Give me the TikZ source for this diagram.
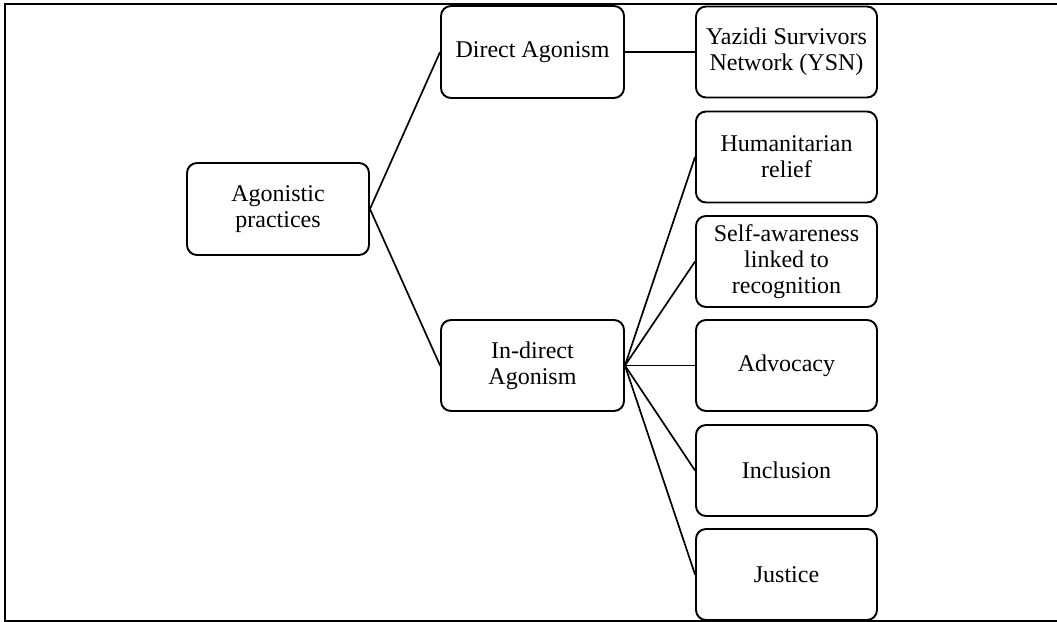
\documentclass[tikz,border=0pt]{standalone}
\usepackage{fontspec}
\setmainfont{Liberation Serif}
\usepackage{tikz}

\begin{document}
\begin{tikzpicture}[x=0.5pt, y=-0.5pt,
    box/.style={shape=rectangle, draw=black, line width=0.95pt, rounded corners=5pt,
        minimum width=90.5pt, minimum height=45.5pt, inner sep=2pt, align=center,
        font=\fontsize{12}{13}\selectfont},
    link/.style={draw=black, line width=0.85pt}]
    \useasboundingbox (0, 0) rectangle (1057, 622);
    % outer frame, right side lies outside the picture
    \draw [line width=0.9pt] (1057, 4) -- (5, 4) -- (5, 621) -- (1057, 621);

    \node[box, minimum width=91pt, minimum height=46pt] (agon) at (278, 209) {Agonistic\\practices};
    \node[box, minimum width=91.5pt, minimum height=46pt] (direct) at (532.5, 52) {Direct Agonism};
    \node[box, minimum width=91.5pt] (indirect) at (532.5, 365.5) {In-direct\\Agonism};

    \node[box] (ysn) at (786.5, 52) {Yazidi Survivors\\Network (YSN)};
    \node[box] (relief) at (786.5, 157) {Humanitarian\\relief};
    \node[box] (aware) at (786.5, 261.5) {Self-awareness\\linked to\\recognition};
    \node[box] (advocacy) at (786.5, 365.5) {Advocacy};
    \node[box] (inclusion) at (786.5, 470.5) {Inclusion};
    \node[box] (justice) at (786.5, 574.5) {Justice};

    \path [link] (agon.east) edge (direct.west);
    \path [link] (agon.east) edge (indirect.west);
    \path [link] (direct.east) edge (ysn.west);
    \path [link] (indirect.east) edge (relief.west);
    \path [link] (indirect.east) edge (aware.west);
    \path [link] (indirect.east) edge (advocacy.west);
    \path [link] (indirect.east) edge (inclusion.west);
    \path [link] (indirect.east) edge (justice.west);
\end{tikzpicture}
\end{document}
